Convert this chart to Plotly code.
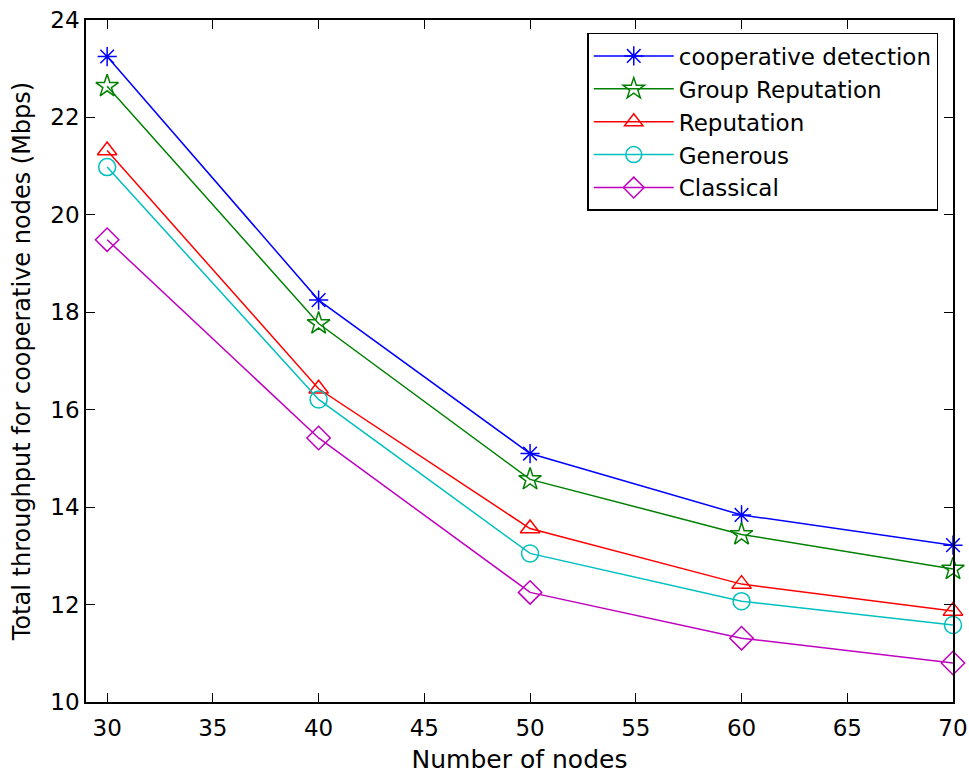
import plotly.graph_objects as go

nodes = [30, 40, 50, 60, 70]
coop_detection = [23.25, 18.25, 15.10, 13.84, 13.22]
group_reputation = [22.64, 17.77, 14.57, 13.44, 12.73]
reputation = [21.32, 16.43, 13.56, 12.42, 11.87]
generous = [20.98, 16.21, 13.05, 12.07, 11.58]
classical = [19.49, 15.42, 12.25, 11.31, 10.80]

series_names = ["cooperative detection", "Group Reputation", "Reputation", "Generous", "Classical"]
series_values = [coop_detection, group_reputation, reputation, generous, classical]
colors = ["#0000FF", "#008000", "#FF0000", "#00BFBF", "#BF00BF"]
symbols = ["asterisk-open", "star-open", "triangle-up-open", "circle-open", "diamond-open"]
sizes = [16, 17, 17, 17, 18]

x_ticks = [30, 35, 40, 45, 50, 55, 60, 65, 70]
y_ticks = [10, 12, 14, 16, 18, 20, 22, 24]

font = "DejaVu Sans, Arial, sans-serif"

fig = go.Figure()
for name, vals, c, s, sz in zip(series_names, series_values, colors, symbols, sizes):
    fig.add_trace(go.Scatter(
        x=nodes, y=vals, name=name, mode="lines+markers",
        line=dict(color=c, width=1.5),
        marker=dict(symbol=s, size=sz, color=c, line=dict(color=c, width=1.5)),
        cliponaxis=False,
    ))

fig.update_layout(
    width=969, height=774,
    margin=dict(l=86, r=16, t=20, b=72, autoexpand=False),
    paper_bgcolor="white", plot_bgcolor="white",
    font=dict(family=font, size=23, color="black"),
    showlegend=True,
    legend=dict(
        x=0.983, y=0.981, xanchor="right", yanchor="top",
        bgcolor="white", bordercolor="black", borderwidth=1.5,
        font=dict(family=font, size=23, color="black"),
        itemwidth=80, tracegroupgap=0,
    ),
    xaxis=dict(
        range=[29, 70], tickvals=x_ticks, ticktext=[str(v) for v in x_ticks],
        ticks="inside", ticklen=9, tickwidth=1.2, tickcolor="black",
        showline=True, linecolor="black", linewidth=1.5, mirror="allticks",
        showgrid=False, zeroline=False, automargin=False, ticklabelstandoff=5,
        title=dict(text="Number of nodes", font=dict(family=font, size=25), standoff=12),
    ),
    yaxis=dict(
        range=[10, 24], tickvals=y_ticks, ticktext=[str(v) for v in y_ticks],
        ticks="inside", ticklen=9, tickwidth=1.2, tickcolor="black",
        showline=True, linecolor="black", linewidth=1.5, mirror="allticks",
        showgrid=False, zeroline=False, automargin=False,
        title=dict(text="Total throughput for cooperative nodes (Mbps)", font=dict(family=font, size=24), standoff=13),
    ),
)

fig.write_html("out.html")
